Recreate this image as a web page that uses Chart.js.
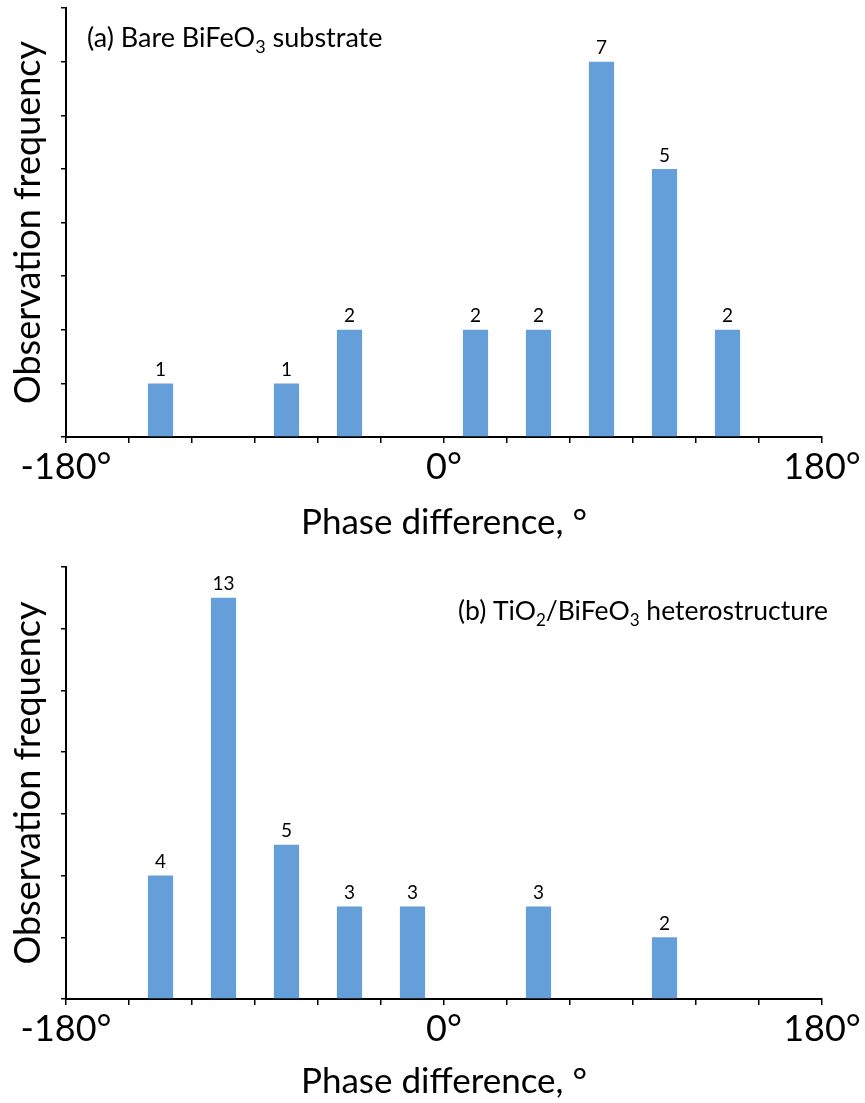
<!DOCTYPE html>
<html>
<head>
<meta charset="utf-8">
<title>Phase difference histograms</title>
<script src="https://cdn.jsdelivr.net/npm/chart.js@4.4.1/dist/chart.umd.min.js"></script>
<style>
  body { margin: 0; background: #fff; }
  canvas { display: block; }
</style>
</head>
<body>
<canvas id="chartA" width="865" height="550"></canvas>
<canvas id="chartB" width="865" height="553"></canvas>
<script>
// bin centres of the 30° phase bins
const binCentres = [-165, -135, -105, -75, -45, -15, 15, 45, 75, 105, 135, 165];

// observation counts per bin
const bareCounts = [0, 1, 0, 1, 2, 0, 2, 2, 7, 5, 2, 0];
const heteroCounts = [0, 4, 13, 5, 3, 3, 0, 3, 0, 2, 0, 0];

// labelled ticks on the phase axis
const phaseTickLabels = [-180, 0, 180];

// panel titles, split into [text, isSubscript] runs
const bareTitle = [["(a) Bare BiFeO", false], ["3", true], [" substrate", false]];
const heteroTitle = [["(b) TiO", false], ["2", true], ["/BiFeO", false], ["3", true], [" heterostructure", false]];

const FONT = "Lato, 'Open Sans', sans-serif";
const BAR_BLUE = "#659fda";

// writes the count above every non-empty bar
const barValueLabels = {
  id: "barValueLabels",
  afterDatasetsDraw(chart) {
    const ctx = chart.ctx;
    const meta = chart.getDatasetMeta(0);
    const values = chart.data.datasets[0].data;
    ctx.save();
    ctx.font = "19px " + FONT;
    ctx.fillStyle = "#000";
    ctx.textAlign = "center";
    ctx.textBaseline = "bottom";
    meta.data.forEach((bar, i) => {
      const v = values[i].y;
      if (v > 0) ctx.fillText(String(v), bar.x, bar.y - 4);
    });
    ctx.restore();
  }
};

// panel title with subscripts
const panelTitle = {
  id: "panelTitle",
  afterDraw(chart, args, opts) {
    const ctx = chart.ctx;
    const area = chart.chartArea;
    const size = opts.size;
    const subSize = Math.round(size * 0.65);
    ctx.save();
    ctx.fillStyle = "#000";
    ctx.textBaseline = "alphabetic";
    ctx.textAlign = "left";
    let total = 0;
    opts.runs.forEach(([txt, sub]) => {
      ctx.font = (sub ? subSize : size) + "px " + FONT;
      total += ctx.measureText(txt).width;
    });
    let x = opts.align === "right" ? area.right + opts.dx - total : area.left + opts.dx;
    const y = area.top + opts.dy;
    opts.runs.forEach(([txt, sub]) => {
      ctx.font = (sub ? subSize : size) + "px " + FONT;
      ctx.fillText(txt, x, sub ? y + size * 0.22 : y);
      x += ctx.measureText(txt).width;
    });
    ctx.restore();
  }
};

function makeHistogram(canvas, counts, yMax, yStep, title, titlePos, pad) {
  const points = binCentres.map((c, i) => ({ x: c, y: counts[i] }));
  return new Chart(canvas, {
    type: "bar",
    data: {
      datasets: [{
        data: points,
        backgroundColor: BAR_BLUE,
        borderWidth: 0,
        barPercentage: 0.4,
        categoryPercentage: 1.0
      }]
    },
    options: {
      responsive: false,
      animation: false,
      layout: { padding: { top: pad.top, right: 43, left: 0, bottom: 0 } },
      plugins: {
        legend: { display: false },
        tooltip: { enabled: false },
        panelTitle: Object.assign({ runs: title }, titlePos)
      },
      scales: {
        x: {
          type: "linear",
          min: -180,
          max: 180,
          offset: false,
          border: { display: true, color: "#000", width: 2 },
          grid: { offset: false, drawOnChartArea: false, drawTicks: true, tickLength: 6, color: "#000", lineWidth: 1.5 },
          ticks: {
            stepSize: 30,
            autoSkip: false,
            maxRotation: 0,
            padding: 3,
            color: "#000",
            font: { family: FONT, size: 36, lineHeight: 1.2 },
            callback: (v) => phaseTickLabels.includes(v) ? v + "°" : ""
          },
          title: {
            display: true,
            text: "Phase difference, °",
            color: "#000",
            font: { family: FONT, size: 35, lineHeight: 1.2 },
            padding: { top: 0, bottom: pad.titleBottom }
          },
          afterFit: (scale) => { scale.height = pad.xAxisHeight; }
        },
        y: {
          min: 0,
          max: yMax,
          border: { display: true, color: "#000", width: 2 },
          grid: { drawOnChartArea: false, drawTicks: true, tickLength: 5, color: "#000", lineWidth: 1.5 },
          ticks: { stepSize: yStep, display: false },
          title: {
            display: true,
            text: "Observation frequency",
            color: "#000",
            font: { family: FONT, size: 36, lineHeight: 1.2 },
            padding: { top: 7, bottom: 0 }
          },
          afterFit: (scale) => { scale.width = 66; }
        }
      }
    },
    plugins: [barValueLabels, panelTitle]
  });
}

document.addEventListener("DOMContentLoaded", function () {
  makeHistogram(document.getElementById("chartA"), bareCounts, 8, 1, bareTitle,
    { align: "left", dx: 21, dy: 39, size: 27 },
    { top: 8, xAxisHeight: 113, titleBottom: 6 });
  makeHistogram(document.getElementById("chartB"), heteroCounts, 14, 2, heteroTitle,
    { align: "right", dx: 6, dy: 53, size: 26.5 },
    { top: 17, xAxisHeight: 104, titleBottom: 0 });
});
</script>
</body>
</html>
